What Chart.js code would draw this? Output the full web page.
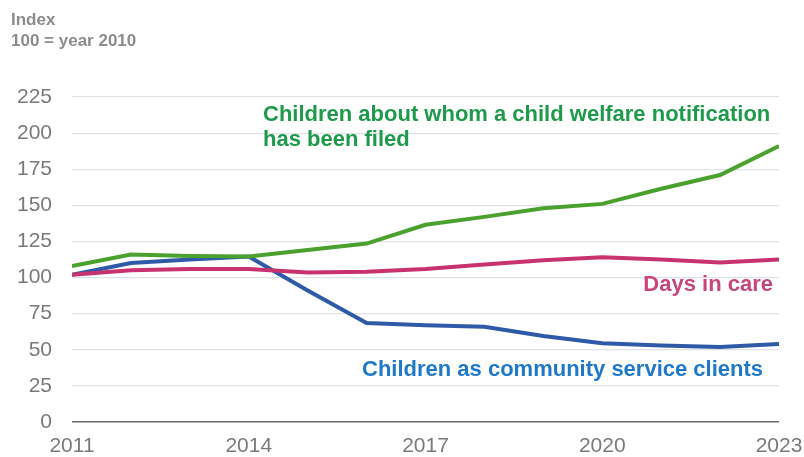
<!DOCTYPE html>
<html>
<head>
<meta charset="utf-8">
<script src="https://cdn.jsdelivr.net/npm/chart.js@4"></script>
<style>
  html, body { margin: 0; padding: 0; background: #fff; }
  #wrap { position: relative; width: 804px; height: 457px; font-family: "Liberation Sans", Arial, sans-serif; }
  canvas { position: absolute; left: 0; top: 0; }
  .t { position: absolute; white-space: nowrap; }
  .hdr { left: 11px; font-size: 17px; font-weight: bold; color: #8c8c8c; line-height: 21px; }
  .lab { font-size: 22px; font-weight: bold; line-height: 25px; }
</style>
</head>
<body>
<div id="wrap">
  <canvas id="c" width="804" height="457"></canvas>
  <div class="t hdr" style="top:9px;">Index<br>100 = year 2010</div>
  <div class="t lab" style="left:263px; top:101px; color:#1f9a4c;">Children about whom a child welfare notification<br>has been filed</div>
  <div class="t lab" style="right:31px; top:271px; color:#c8467c;">Days in care</div>
  <div class="t lab" style="left:362px; top:356px; color:#1f78c8;">Children as community service clients</div>
</div>
<script>
const years = [2011, 2012, 2013, 2014, 2015, 2016, 2017, 2018, 2019, 2020, 2021, 2022, 2023];
const notifications = [108, 116, 115, 114.5, 119, 123.5, 136.5, 142, 148, 151, 161.5, 171, 191];
const daysInCare = [102, 105, 106, 106, 103.5, 104, 106, 109, 112, 114, 112.5, 110.5, 112.5];
const communityClients = [102, 110, 112.5, 114.5, 91, 68.5, 67, 66, 59.5, 54.5, 53, 52, 54];
const yTicks = [0, 25, 50, 75, 100, 125, 150, 175, 200, 225];
const xTicks = [2011, 2014, 2017, 2020, 2023];

const toPts = arr => arr.map((v, i) => ({ x: years[i], y: v }));

new Chart(document.getElementById('c'), {
  type: 'line',
  data: {
    datasets: [
      { data: toPts(daysInCare), borderColor: '#c8336f', borderWidth: 4, pointRadius: 0, tension: 0 },
      { data: toPts(notifications), borderColor: '#4aa12e', borderWidth: 4, pointRadius: 0, tension: 0 },
      { data: toPts(communityClients), borderColor: '#2e5aa8', borderWidth: 4, pointRadius: 0, tension: 0 }
    ]
  },
  options: {
    responsive: false,
    animation: false,
    layout: { padding: { top: 97, right: 25, left: 0, bottom: 0 } },
    plugins: { legend: { display: false }, tooltip: { enabled: false } },
    scales: {
      x: {
        type: 'linear', min: 2011, max: 2023,
        afterBuildTicks: s => { s.ticks = xTicks.map(v => ({ value: v })); },
        afterFit: s => { s.height = 35; s.paddingRight = 0; s.paddingLeft = 0; },
        ticks: { callback: v => String(v), color: '#7a7a7a', font: { family: 'Liberation Sans', size: 21 }, padding: 12, maxRotation: 0 },
        grid: { display: false, drawTicks: false },
        border: { display: false }
      },
      y: {
        min: 0, max: 225,
        afterBuildTicks: s => { s.ticks = yTicks.map(v => ({ value: v })); },
        afterFit: s => { s.width = 72; },
        ticks: { color: '#7a7a7a', font: { family: 'Liberation Sans', size: 21 }, padding: 20 },
        grid: {
          drawTicks: false,
          color: c => c.tick && c.tick.value === 0 ? '#6b6b6b' : '#dfe3e8',
          lineWidth: c => c.tick && c.tick.value === 0 ? 1.5 : 1.2
        },
        border: { display: false }
      }
    }
  }
});
</script>
</body>
</html>
